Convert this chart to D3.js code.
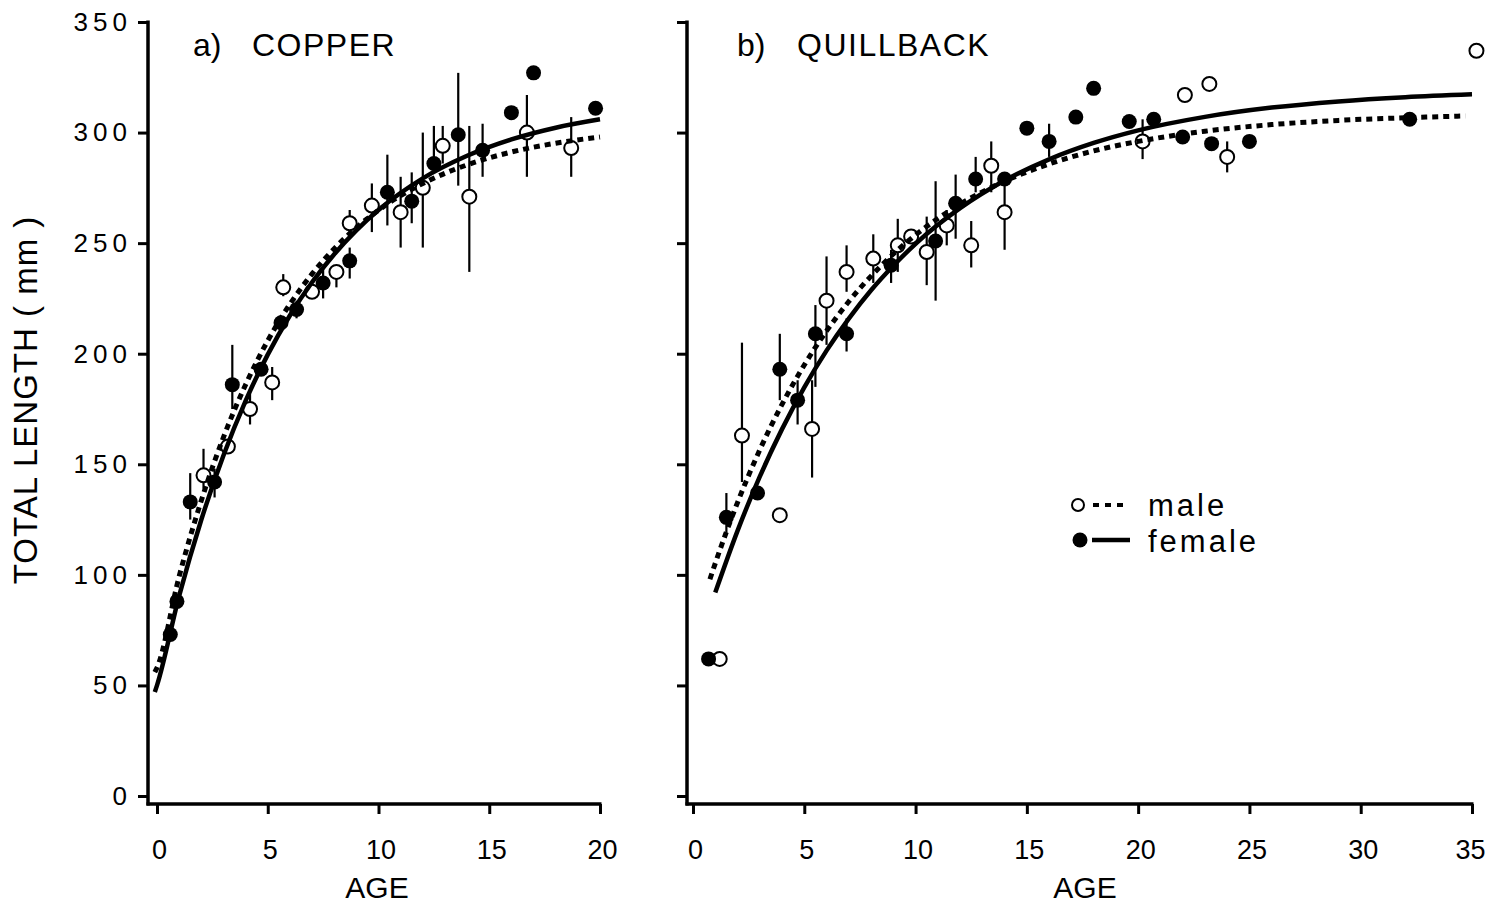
<!DOCTYPE html>
<html>
<head>
<meta charset="utf-8">
<script src="https://cdn.jsdelivr.net/npm/d3@7"></script>
<style>
  html, body { margin: 0; padding: 0; background: #fff; }
  svg { display: block; }
  text { font-family: "Liberation Sans", Arial, Helvetica, sans-serif; fill: #000; }
</style>
</head>
<body>
<svg id="chart" width="1487" height="908"></svg>
<script>
// ---------------- DATA ----------------
// [age, mean length, error-bar low, error-bar high]  (null = no bar)
const copperFemale = [
  [0.6, 73, null, null], [0.9, 88, null, null], [1.5, 133, 125, 146],
  [2.6, 142, 135, 148], [3.4, 186, 175, 204], [4.7, 193, null, null],
  [5.6, 214, null, null], [6.3, 220, 216, 224], [7.5, 232, 225, 239],
  [8.7, 242, 234, 248], [10.4, 273, 258, 290], [11.5, 269, 259, 282],
  [12.5, 286, 282, 303], [13.6, 299, 276, 327], [14.7, 292, 280, 304],
  [16.0, 309, null, null], [17.0, 327, null, null], [19.8, 311, null, null]
];
const copperMale = [
  [2.1, 145, 139, 157], [3.2, 158, null, null], [4.2, 175, 168, 182],
  [5.2, 187, 179, 194], [5.7, 230, 226, 236], [7.0, 228, null, null],
  [8.1, 237, 230, 240], [8.7, 259, 252, 265], [9.7, 267, 255, 277],
  [11.0, 264, 248, 280], [12.0, 275, 248, 300], [12.9, 294, 286, 303],
  [14.1, 271, 237, 303], [16.7, 300, 280, 317], [18.7, 293, 280, 307]
];
const quillFemale = [
  [0.7, 62, null, null], [1.5, 126, 119, 137], [2.9, 137, null, null],
  [3.9, 193, 179, 209], [4.7, 179, 168, 188], [5.5, 209, 185, 222],
  [6.9, 209, 201, 216], [8.9, 240, 232, 247], [10.9, 251, 224, 278],
  [11.8, 268, 252, 281], [12.7, 279, 273, 289], [14.0, 279, null, null],
  [15.0, 302, null, null], [16.0, 296, 289, 304], [17.2, 307, null, null],
  [18.0, 320, null, null], [19.6, 305, null, null], [20.7, 306, null, null],
  [22.0, 298, null, null], [23.3, 295, null, null], [25.0, 296, null, null],
  [32.2, 306, null, null]
];
const quillMale = [
  [1.2, 62, null, null], [2.2, 163, 142, 205], [3.9, 127, null, null],
  [5.35, 166, 144, 188], [6.0, 224, 204, 244], [6.9, 237, 228, 249],
  [8.1, 243, 232, 254], [9.2, 249, 237, 261], [9.8, 253, null, null],
  [10.5, 246, 231, 262], [11.4, 258, 249, 265], [12.5, 249, 239, 260],
  [13.4, 285, 273, 296], [14.0, 264, 247, 280], [20.2, 296, 288, 306],
  [22.1, 317, null, null], [23.2, 322, null, null], [24.0, 289, 282, 296],
  [35.2, 337, null, null]
];

// fitted growth curves at these ages
const copperFitAge = [-0.1, 0, 1, 2, 3, 4, 5, 6, 7, 8, 9, 10, 12, 14, 16, 18, 20];
const copperFemaleFit = [47, 50, 90.5, 124.9, 154, 178.7, 199.6, 217.3, 232.3, 245, 255.8, 265, 279.3, 289.5, 296.9, 302.2, 306];
const copperMaleFit   = [56, 58, 99.3, 133.6, 162.2, 186, 205.9, 222.4, 236.1, 247.5, 257, 264.9, 277, 285.4, 291.2, 295.2, 298];

const quillFemaleFitAge = [1, 2, 3, 4, 5, 6, 7, 8, 9, 10, 12, 14, 16, 18, 20, 23, 26, 29, 32, 35];
const quillFemaleFit    = [92, 119.9, 144.4, 165.9, 184.8, 201.4, 215.9, 228.7, 239.8, 249.7, 265.8, 278.3, 287.9, 295.3, 301, 307.1, 311.3, 314.1, 316, 317.3];
const quillMaleFitAge   = [0.76, 1, 2, 3, 4, 5, 6, 7, 8, 9, 10, 12, 14, 16, 18, 20, 23, 26, 29, 32, 34.7];
const quillMaleFit      = [98, 105.2, 132.7, 156.5, 177.1, 194.9, 210.3, 223.6, 235.1, 245.1, 253.7, 267.6, 278, 285.8, 291.7, 296, 300.6, 303.6, 305.5, 306.7, 307.5];

const yTicks = [0, 50, 100, 150, 200, 250, 300, 350];
const copperXTicks = [0, 5, 10, 15, 20];
const quillXTicks = [0, 5, 10, 15, 20, 25, 30, 35];
const panelTitles = [["a)", "COPPER"], ["b)", "QUILLBACK"]];
const legendLabels = ["male", "female"];
const xTitle = "AGE";
const yTitle = "TOTAL LENGTH ( mm )";

// ---------------- DRAW ----------------
const svg = d3.select("#chart");
svg.append("rect").attr("width", 1487).attr("height", 908).attr("fill", "#fff");

const y = d3.scaleLinear().domain([0, 350]).range([796, 22]);
const AXIS_Y = 804;

function panel(opts) {
  const { x, axisX, xTicks, yLabels, female, male, fFitAge, fFit, mFitAge, mFit, title, titleX, titleGap, ageX } = opts;
  const g = svg.append("g");

  // y axis ticks
  const yAxis = d3.axisLeft(y).tickValues(yTicks).tickSize(10).tickSizeOuter(0)
    .tickPadding(6).tickFormat(yLabels ? d3.format("d") : () => "");
  const ya = g.append("g").attr("transform", `translate(${axisX},0)`).call(yAxis);
  ya.select(".domain").remove();
  ya.selectAll(".tick line").attr("stroke", "#000").attr("stroke-width", 3);
  ya.selectAll(".tick text").attr("font-size", 26).attr("letter-spacing", "5px")
    .attr("font-family", '"Liberation Sans", Arial, sans-serif').attr("fill", "#000");

  // x axis ticks
  const xAxis = d3.axisBottom(x).tickValues(xTicks).tickSize(10).tickSizeOuter(0).tickPadding(26);
  const xa = g.append("g").attr("transform", `translate(0,${AXIS_Y})`).call(xAxis);
  xa.select(".domain").remove();
  xa.selectAll(".tick line").attr("stroke", "#000").attr("stroke-width", 3);
  xa.selectAll(".tick text").attr("font-size", 27)
    .attr("dx", (d, i) => i === xTicks.length - 1 && xTicks.length > 5 ? -2 : 2)
    .attr("font-family", '"Liberation Sans", Arial, sans-serif').attr("fill", "#000");

  // axis lines
  g.append("line").attr("x1", axisX).attr("x2", axisX).attr("y1", y(350) - 1.5).attr("y2", AXIS_Y + 1.5)
    .attr("stroke", "#000").attr("stroke-width", 3.5);
  g.append("line").attr("x1", axisX - 1.5).attr("x2", x(xTicks[xTicks.length - 1]) + 1.5)
    .attr("y1", AXIS_Y).attr("y2", AXIS_Y).attr("stroke", "#000").attr("stroke-width", 3.5);

  // error bars
  const bars = female.concat(male).filter(d => d[2] !== null);
  g.append("g").selectAll("line").data(bars).join("line")
    .attr("x1", d => x(d[0])).attr("x2", d => x(d[0]))
    .attr("y1", d => y(d[2])).attr("y2", d => y(d[3]))
    .attr("stroke", "#000").attr("stroke-width", 2.2);

  // points
  g.append("g").selectAll("circle").data(male).join("circle")
    .attr("cx", d => x(d[0])).attr("cy", d => y(d[1])).attr("r", 7)
    .attr("fill", "#fff").attr("stroke", "#000").attr("stroke-width", 2);
  g.append("g").selectAll("circle").data(female).join("circle")
    .attr("cx", d => x(d[0])).attr("cy", d => y(d[1])).attr("r", 7.5)
    .attr("fill", "#000");

  // curves
  const line = d3.line().x(d => x(d[0])).y(d => y(d[1])).curve(d3.curveMonotoneX);
  g.append("path").datum(mFitAge.map((a, i) => [a, mFit[i]])).attr("d", line)
    .attr("fill", "none").attr("stroke", "#000").attr("stroke-width", 5).attr("stroke-dasharray", "6,5");
  g.append("path").datum(fFitAge.map((a, i) => [a, fFit[i]])).attr("d", line)
    .attr("fill", "none").attr("stroke", "#000").attr("stroke-width", 4.5);

  // titles
  g.append("text").attr("x", titleX).attr("y", 56).attr("font-size", 32).text(title[0]);
  g.append("text").attr("x", titleX + titleGap).attr("y", 56).attr("font-size", 32)
    .attr("letter-spacing", "1.5px").text(title[1]);
  g.append("text").attr("x", ageX).attr("y", 898).attr("font-size", 30).attr("text-anchor", "middle").text(xTitle);
}

const xCopper = d3.scaleLinear().domain([0, 20]).range([157, 600]);
const xQuill = d3.scaleLinear().domain([0, 35]).range([693, 1472]);

panel({ x: xCopper, axisX: 148, xTicks: copperXTicks, yLabels: true,
  female: copperFemale, male: copperMale,
  fFitAge: copperFitAge, fFit: copperFemaleFit, mFitAge: copperFitAge, mFit: copperMaleFit,
  title: panelTitles[0], titleX: 193, titleGap: 59, ageX: 377 });
panel({ x: xQuill, axisX: 687, xTicks: quillXTicks, yLabels: false,
  female: quillFemale, male: quillMale,
  fFitAge: quillFemaleFitAge, fFit: quillFemaleFit, mFitAge: quillMaleFitAge, mFit: quillMaleFit,
  title: panelTitles[1], titleX: 737, titleGap: 60, ageX: 1085 });

// y title
svg.append("text").attr("transform", "translate(37,400) rotate(-90)")
  .attr("text-anchor", "middle").attr("font-size", 33).attr("letter-spacing", "1px").text(yTitle);

// legend
const lg = svg.append("g");
lg.append("circle").attr("cx", 1078).attr("cy", 505).attr("r", 6).attr("fill", "#fff")
  .attr("stroke", "#000").attr("stroke-width", 2);
lg.append("line").attr("x1", 1093).attr("x2", 1128).attr("y1", 505).attr("y2", 505)
  .attr("stroke", "#000").attr("stroke-width", 4).attr("stroke-dasharray", "6,6");
lg.append("text").attr("x", 1148).attr("y", 516).attr("font-size", 31).attr("letter-spacing", "3px").text(legendLabels[0]);
lg.append("circle").attr("cx", 1080).attr("cy", 540).attr("r", 7.5).attr("fill", "#000");
lg.append("line").attr("x1", 1092).attr("x2", 1130).attr("y1", 540).attr("y2", 540)
  .attr("stroke", "#000").attr("stroke-width", 4.5);
lg.append("text").attr("x", 1148).attr("y", 552).attr("font-size", 31).attr("letter-spacing", "3px").text(legendLabels[1]);
</script>
</body>
</html>
